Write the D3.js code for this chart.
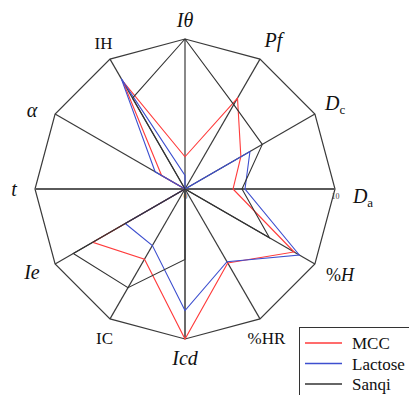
<!DOCTYPE html>
<html>
<head>
<meta charset="utf-8">
<script src="https://cdn.jsdelivr.net/npm/d3@7"></script>
<style>
  body { margin: 0; background: #fff; }
</style>
</head>
<body>
<script>
// Axis names, clockwise from the top
const axes = ["Iθ", "Pf", "Dc", "Da", "%H", "%HR", "Icd", "IC", "Ie", "t", "α", "IH"];

// Series values (0 - 10)
const mcc     = [2.15, 7.0, 4.3, 3.2, 8.4, 5.7, 10, 5.4, 7.1, 0, 1.8, 8.3];
const lactose = [0.9, 0, 5.0, 4.0, 8.8, 5.6, 8.1, 4.35, 4.6, 0, 2.3, 8.5];
const sanqi   = [10, 6.5, 5.95, 3.8, 6.5, 0, 4.7, 7.6, 8.6, 0, 0, 7.0];

const seriesNames = ["MCC", "Lactose", "Sanqi"];
const tickValues = [0, 10];

const width = 409, height = 395;
const cx = 185, cy = 189, radius = 150;
const colors = ["#ff3b3b", "#3d4fcf", "#333333"];
const serif = "Liberation Serif";

const svg = d3.select("body").append("svg")
  .attr("width", width)
  .attr("height", height)
  .attr("font-family", serif);

const r = d3.scaleLinear().domain([0, 10]).range([0, radius]);
const step = 2 * Math.PI / axes.length;
const ang = i => i * step;

const g = svg.append("g").attr("transform", `translate(${cx},${cy})`);

// outer polygon
const radial = d3.lineRadial()
  .angle((d, i) => ang(i))
  .radius(d => r(d))
  .curve(d3.curveLinearClosed);

g.append("path")
  .datum(axes.map(() => 10))
  .attr("d", radial)
  .attr("fill", "none")
  .attr("stroke", "#3a3a3a")
  .attr("stroke-width", 1.2);

// spokes
g.selectAll(".spoke")
  .data(axes)
  .enter().append("line")
  .attr("class", "spoke")
  .attr("x1", 0).attr("y1", 0)
  .attr("x2", (d, i) => r(10) * Math.sin(ang(i)))
  .attr("y2", (d, i) => -r(10) * Math.cos(ang(i)))
  .attr("stroke", "#3a3a3a")
  .attr("stroke-width", 1.2);

// axis lines (horizontal + lower vertical), thicker grey
g.append("line")
  .attr("x1", -r(10)).attr("x2", r(10)).attr("y1", 0).attr("y2", 0)
  .attr("stroke", "#5a5a5a").attr("stroke-width", 2);
g.append("line")
  .attr("x1", 0).attr("x2", 0).attr("y1", 0).attr("y2", r(10))
  .attr("stroke", "#6a6a6a").attr("stroke-width", 2);

// series
[mcc, lactose, sanqi].forEach((vals, k) => {
  g.append("path")
    .datum(vals)
    .attr("d", radial)
    .attr("fill", "none")
    .attr("stroke", colors[k])
    .attr("stroke-width", 1.1);
});

// tick labels 0 and 10
const axis = d3.axisBottom(r).tickValues(tickValues).tickSize(0).tickPadding(4);
const ax = g.append("g").call(axis).attr("font-family", serif);
ax.select(".domain").remove();
ax.selectAll("text")
  .attr("font-size", 8)
  .attr("fill", "#444");

// axis labels: [text, italic, subscript]
const labelParts = {
  "Iθ": [["Iθ", true]],
  "Pf": [["Pf", true]],
  "Dc": [["D", true], ["c", false, true]],
  "Da": [["D", true], ["a", false, true]],
  "%H": [["%", false], ["H", true]],
  "%HR": [["%HR", false]],
  "Icd": [["Icd", true]],
  "IC": [["IC", false]],
  "Ie": [["Ie", true]],
  "t": [["t", true]],
  "α": [["α", true]],
  "IH": [["IH", false]]
};
const labelSize = {
  "Iθ": 20, "Pf": 20, "Dc": 20, "Da": 20, "%H": 18, "%HR": 17,
  "Icd": 20, "IC": 17, "Ie": 20, "t": 20, "α": 20, "IH": 17
};
const nudge = {
  "Iθ": [0, 3], "Pf": [3, 0], "Dc": [2, 0], "Da": [7, 8], "%H": [7, 0],
  "%HR": [-4, 1], "Icd": [0, -1], "IC": [5, 1], "Ie": [-5, -2], "t": [0, 1],
  "α": [-5, 7], "IH": [4, 2]
};
const labelR = 171;

axes.forEach((name, i) => {
  const x = labelR * Math.sin(ang(i)) + nudge[name][0];
  const y = -labelR * Math.cos(ang(i)) + nudge[name][1] + 6;
  const t = g.append("text")
    .attr("x", x).attr("y", y)
    .attr("text-anchor", "middle")
    .attr("font-size", labelSize[name])
    .attr("fill", "#111");
  labelParts[name].forEach(([txt, italic, sub]) => {
    const ts = t.append("tspan").text(txt)
      .attr("font-style", italic ? "italic" : "normal");
    if (sub) ts.attr("font-size", 13).attr("dy", 4);
  });
});

// legend
const legend = svg.append("g");
legend.append("rect")
  .attr("x", 299.5).attr("y", 327.5)
  .attr("width", 130).attr("height", 90)
  .attr("fill", "#fff")
  .attr("stroke", "#333")
  .attr("stroke-width", 1);

const ly = d3.scalePoint().domain(seriesNames).range([343, 384]);
seriesNames.forEach((name, k) => {
  legend.append("line")
    .attr("x1", 305).attr("x2", 342)
    .attr("y1", ly(name)).attr("y2", ly(name))
    .attr("stroke", colors[k])
    .attr("stroke-width", 1.3);
  legend.append("text")
    .attr("x", 352).attr("y", ly(name) + 6)
    .attr("font-size", 17)
    .attr("fill", "#111")
    .text(name);
});
</script>
</body>
</html>
